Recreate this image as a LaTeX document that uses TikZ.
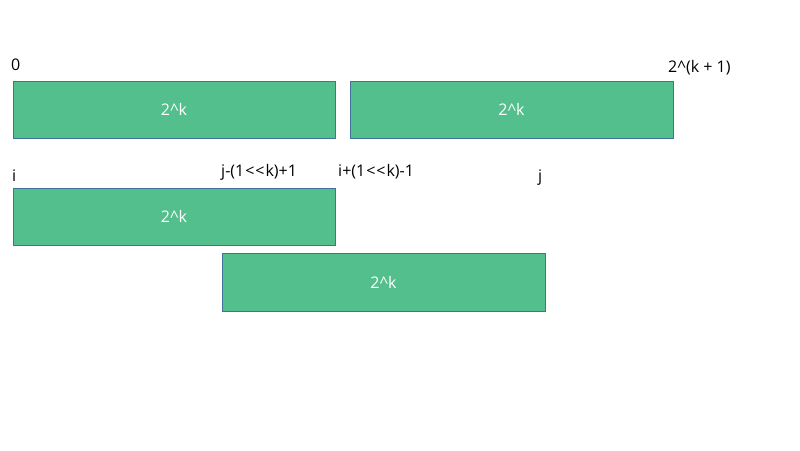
\documentclass[tikz,border=0pt]{standalone}
\usepackage{fontspec}
\setmainfont{Open Sans}
\definecolor{boxfill}{RGB}{82,191,140}
\definecolor{boxline}{RGB}{65,113,156}
\begin{document}
\begin{tikzpicture}[x=1pt,y=-1pt,
  blk/.style={draw=boxline,line width=0.8pt,fill=boxfill,text=white,
    font=\fontsize{16}{18}\selectfont},
  lbl/.style={anchor=base west,inner sep=0pt,font=\fontsize{16}{18}\selectfont,text=black}]
\useasboundingbox[fill=white] (0,0) rectangle (800,450);
\draw[blk] (13,81) rectangle (335,138) node[midway] (a) {2\^{}k};
\draw[blk] (350,81) rectangle (673,138) node[midway] (b) {2\^{}k};
\draw[blk] (13,188) rectangle (335,245) node[midway] (c) {2\^{}k};
\draw[blk] (222,253) rectangle (545,311) node[midway] (d) {2\^{}k};
\node[lbl] (l0) at (11,70) {0};
\node[lbl] (l1) at (668,72) {2\^{}(k + 1)};
\node[lbl] (l2) at (12,181) {i};
\node[lbl] (l3) at (221,176) {j-(1\kern1pt<\kern1pt<\kern1pt k)+1};
\node[lbl] (l4) at (338,176) {i+(1\kern1pt<\kern1pt<\kern1pt k)-1};
\node[lbl] (l5) at (538,181) {j};
\end{tikzpicture}
\end{document}
